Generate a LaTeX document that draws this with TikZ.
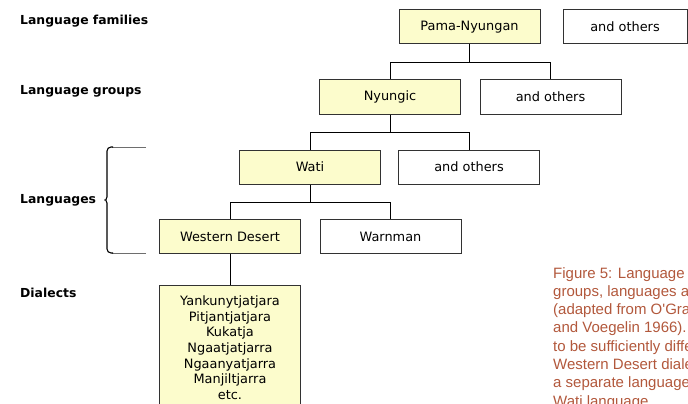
\documentclass[tikz,border=0pt]{standalone}
\usepackage{fontspec}
\setmainfont{DejaVu Sans}
\newfontfamily\capfont{Liberation Sans}
\definecolor{boxfill}{RGB}{252,252,204}
\definecolor{boxline}{RGB}{50,50,50}
\definecolor{capred}{RGB}{178,88,60}
\definecolor{bracegray}{RGB}{110,110,110}
\begin{document}
\begin{tikzpicture}[x=1pt,y=-1pt,
  treebox/.style={draw=boxline, line width=1pt, minimum width=141pt, minimum height=34pt,
    inner sep=0pt, font=\fontsize{12.9}{15}\selectfont},
  keybox/.style={treebox, fill=boxfill},
  otherbox/.style={treebox, fill=white},
  conn/.style={draw=black, line width=1pt},
  levellabel/.style={anchor=base west, inner sep=0pt, font=\fontsize{12.4}{15}\selectfont\bfseries},
  capline/.style={anchor=base west, inner sep=0pt, text=capred, font=\capfont\fontsize{15}{18}\selectfont}]
\useasboundingbox (0,0) rectangle (688,404);
\clip (0,0) rectangle (688,404);

% level labels
\node[levellabel] (lfam) at (20,25) {Language families};
\node[levellabel] (lgrp) at (20,94) {Language groups};
\node[levellabel] (lang) at (20,203) {Languages};
\node[levellabel] (ldia) at (20,297) {Dialects};

% bracket grouping the two language rows
\draw[bracegray, line width=1pt] (146,147) -- (112,147);
\draw[bracegray, line width=1pt] (146,253) -- (112,253);
\draw[black, line width=1.1pt, rounded corners=4pt]
  (113,147) -- (107,147) -- (107,193)
  .. controls (107,198.5) and (105,200) .. (102,200)
  .. controls (105,200) and (107,201.5) .. (107,207)
  -- (107,253) -- (113,253);

% tree boxes
\node[keybox]   (pn)  at (469.5,27)  {Pama-Nyungan};
\node[otherbox, minimum width=124pt] (ao0) at (625,27) {and others};
\node[keybox]   (ny)  at (390,97)    {Nyungic};
\node[otherbox] (ao1) at (550.5,97)  {and others};
\node[keybox]   (wa)  at (310,167)   {Wati};
\node[otherbox] (ao2) at (469,167)   {and others};
\node[keybox]   (wd)  at (230,236.5) {Western Desert};
\node[otherbox] (wm)  at (390.5,236.5) {Warnman};
\node[keybox, minimum height=130pt, anchor=north] (dia) at (230,285) {};

% dialect list
\node[anchor=north, inner sep=0pt, align=center, font=\fontsize{12.9}{15.7}\selectfont]
  (dlist) at (230,295.3) {Yankunytjatjara\\Pitjantjatjara\\Kukatja\\Ngaatjatjarra\\Ngaanyatjarra\\Manjiltjarra\\etc.};

% connectors
\draw[conn] (pn.south) -- ++(0,18) coordinate (j1);
\draw[conn] (j1) -| (ny.north);
\draw[conn] (j1) -| (ao1.north);
\draw[conn] (ny.south) -- ++(0,18) coordinate (j2);
\draw[conn] (j2) -| (wa.north);
\draw[conn] (j2) -| (ao2.north);
\draw[conn] (wa.south) -- ++(0,18) coordinate (j3);
\draw[conn] (j3) -| (wd.north);
\draw[conn] (j3) -| (wm.north);
\draw[conn] (wd.south) -- (dia.north);

% caption
\node[capline] (c1) at (553,278)   {Figure 5: Language};
\node[capline] (c2) at (553,296.3) {groups, languages and};
\node[capline] (c3) at (553,314.6) {(adapted from O'Grady,};
\node[capline] (c4) at (553,332.9) {and Voegelin 1966).};
\node[capline] (c5) at (553,351.2) {to be sufficiently different};
\node[capline] (c6) at (553,369.5) {Western Desert dialects};
\node[capline] (c7) at (553,387.8) {a separate language};
\node[capline] (c8) at (553,406.1) {Wati language.};
\end{tikzpicture}
\end{document}
